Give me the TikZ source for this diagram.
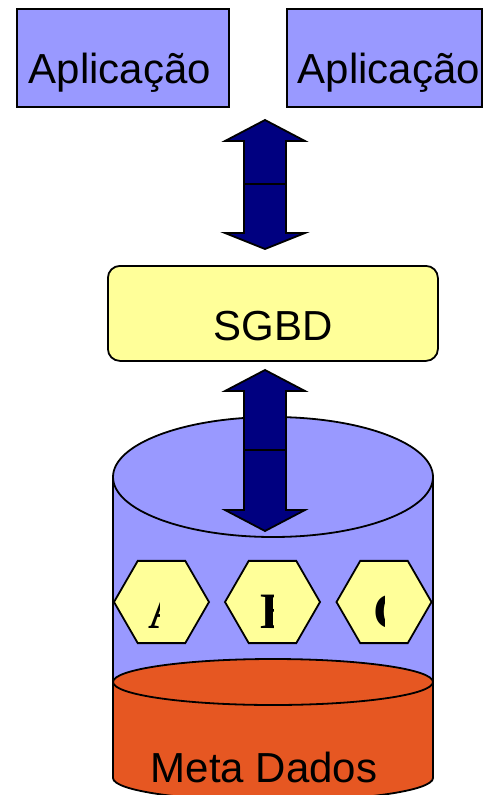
\documentclass[tikz,border=0pt]{standalone}
\usepackage{fontspec}
\setmainfont{Liberation Sans}
\newfontfamily\hexfont{Liberation Serif}
\usepackage{tikz}
\usetikzlibrary{shapes.geometric}
\definecolor{appblue}{RGB}{153,153,255}
\definecolor{arrownavy}{RGB}{0,0,128}
\definecolor{paleyellow}{RGB}{255,255,153}
\definecolor{metared}{RGB}{230,87,34}

\begin{document}
\begin{tikzpicture}[x=1pt,y=-1pt,line width=1.8pt,
    bigtext/.style={font=\fontsize{42}{50}\selectfont},
    appbox/.style={draw,fill=appblue,bigtext,anchor=north west,align=left,
        inner ysep=0pt,text height=75pt,text depth=23pt},
    dbmsbox/.style={draw,fill=paleyellow,bigtext,rounded corners=12pt,anchor=north west,
        inner ysep=0pt,text height=75pt,text depth=20pt},
    hexagon/.style={draw,fill=paleyellow,regular polygon,regular polygon sides=6,
        minimum size=95pt,inner sep=0pt},
    hexletter/.style={font=\hexfont\bfseries\fontsize{51}{60}\selectfont,anchor=base west,inner sep=0pt},
    blockarrow/.style={draw,fill=arrownavy,line join=miter}]
    \useasboundingbox (0,0) rectangle (484,795);

    % Applications
    \node[appbox,inner xsep=12pt,text width=188pt] (app1) at (16,8) {Aplicação};
    \node[appbox,inner xsep=11pt,text width=173pt] (app2) at (286,8) {Aplicação};

    % DBMS
    \node[dbmsbox,minimum width=330pt] (sgbd) at (107,265) {SGBD};

    % Database cylinder (blue part)
    \fill[appblue] (113,477) rectangle (433,690);
    \draw (113,477) -- (113,690) (433,477) -- (433,690);
    \draw[fill=appblue] (273,477) ellipse [x radius=160,y radius=60];

    % Block arrows
    \foreach \t/\ub/\m/\db/\b in {120/141/184/233/249, 370/391/450/510/531} {
        \draw[blockarrow] (265,\t) -- (305,\ub) -- (286,\ub) -- (286,\m) -- (244,\m)
            -- (244,\ub) -- (225,\ub) -- cycle;
        \draw[blockarrow] (244,\m) -- (286,\m) -- (286,\db) -- (305,\db) -- (265,\b)
            -- (225,\db) -- (244,\db) -- cycle;
    }

    % Tables
    \foreach \x/\letter/\lx/\cx in {161.5/A/148/159, 272.5/B/260/273, 384/C/373/384} {
        \node[hexagon] (hex\letter) at (\x,602) {};
        \begin{scope}
            \clip (\lx-5,560) rectangle (\cx,645);
            \node[hexletter] (tab\letter) at (\lx,628) {\letter};
        \end{scope}
    }

    % Meta data (red part)
    \draw[fill=metared] (113,682) -- (113,778) arc [start angle=180,end angle=0,x radius=160,y radius=23]
        -- (433,682);
    \draw[fill=metared] (273,682) ellipse [x radius=160,y radius=23];
    \node[bigtext,anchor=base west,inner sep=0pt] (meta) at (150,782) {Meta Dados};
\end{tikzpicture}
\end{document}
